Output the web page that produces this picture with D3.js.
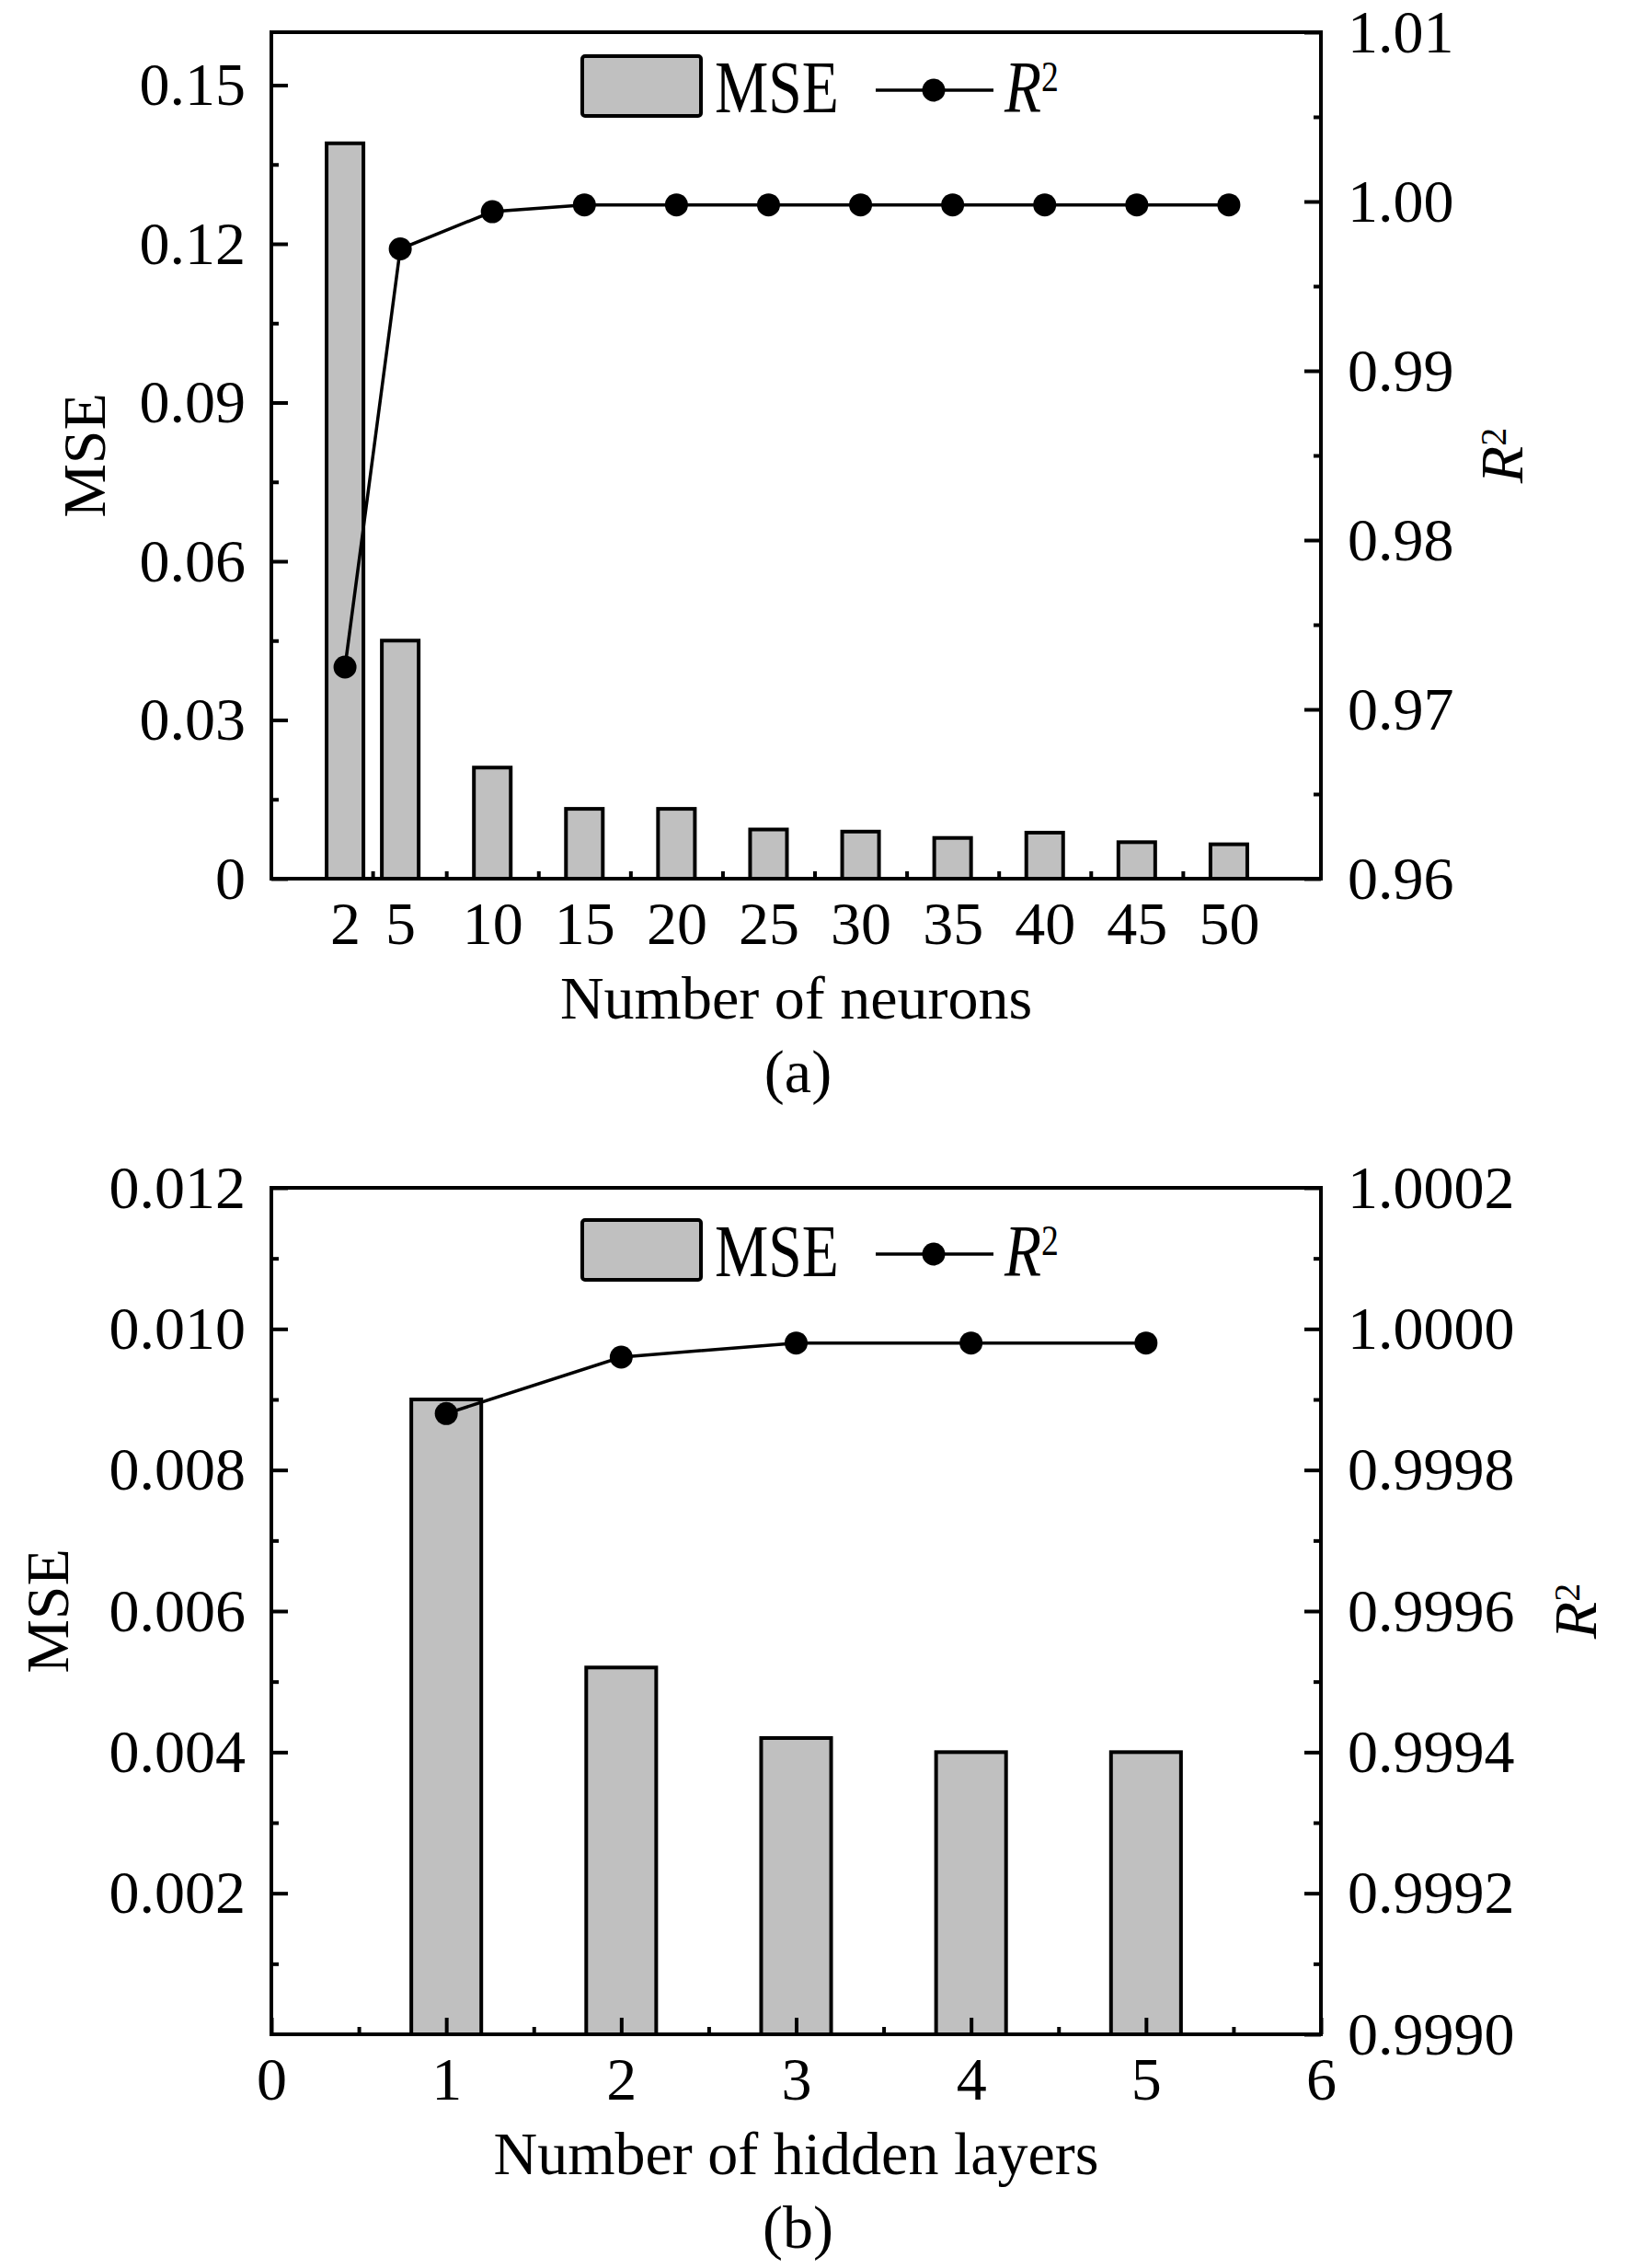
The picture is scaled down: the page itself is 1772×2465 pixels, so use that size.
<!DOCTYPE html>
<html>
<head>
<meta charset="utf-8">
<script src="https://cdn.jsdelivr.net/npm/d3@7"></script>
<style>
  body { margin: 0; background: #fff; }
  svg { display: block; font-family: "Liberation Serif", "Times New Roman", serif; }
</style>
</head>
<body>
<svg id="chart" width="1772" height="2465"></svg>
<script>
// panel (a): number of neurons
const neurons = [2, 5, 10, 15, 20, 25, 30, 35, 40, 45, 50];
const mseNeurons = [0.139, 0.045, 0.021, 0.0132, 0.0132, 0.0093, 0.0089, 0.0077, 0.0087, 0.0069, 0.0065];
const r2Neurons = [0.9725, 0.9972, 0.9994, 0.9998, 0.9998, 0.9998, 0.9998, 0.9998, 0.9998, 0.9998, 0.9998];

// panel (b): number of hidden layers
const layers = [1, 2, 3, 4, 5];
const mseLayers = [0.009, 0.0052, 0.0042, 0.004, 0.004];
const r2Layers = [0.99988, 0.99996, 0.99998, 0.99998, 0.99998];

// tick values
const mseTicksA = [0, 0.03, 0.06, 0.09, 0.12, 0.15];
const r2TicksA = [0.96, 0.97, 0.98, 0.99, 1.00, 1.01];
const mseTicksB = [0.002, 0.004, 0.006, 0.008, 0.010, 0.012];
const r2TicksB = [0.9990, 0.9992, 0.9994, 0.9996, 0.9998, 1.0000, 1.0002];
const layerTicks = [0, 1, 2, 3, 4, 5, 6];

const svg = d3.select("#chart");
const FONT = 66;
const SERIF = '"Liberation Serif", "Times New Roman", serif';

// midpoints between neighbouring ticks (used for the minor ticks)
function midpoints(arr) {
    let out = [];
    for (let i = 0; i < arr.length - 1; i++) {
        out.push((arr[i] + arr[i + 1]) / 2);
    }
    return out;
}

function styleAxis(sel, width) {
    sel.attr("font-family", SERIF).attr("font-size", FONT);
    sel.select(".domain").remove();
    sel.selectAll(".tick line").attr("stroke-width", width);
}

function drawPanel(p) {
    let left = 295, right = 1436;
    let g = svg.append("g");

    let x = d3.scaleLinear().domain(p.xDomain).range([left, right]);
    let yL = d3.scaleLinear().domain(p.mseDomain).range([p.bottom, p.top]);
    let yR = d3.scaleLinear().domain(p.r2Domain).range([p.bottom, p.top]);

    // bars
    let bars = p.cats.map((c, i) => ({c: c, v: p.mse[i]}));
    g.append("g").selectAll("rect")
        .data(bars)
        .join("rect")
        .attr("x", d => x(d.c - p.barW / 2))
        .attr("width", x(p.barW) - x(0))
        .attr("y", d => yL(d.v))
        .attr("height", d => p.bottom - yL(d.v))
        .attr("fill", "#c0c0c0")
        .attr("stroke", "#000")
        .attr("stroke-width", 4);

    // left axis
    let la = g.append("g").attr("transform", "translate(" + left + ",0)")
        .call(d3.axisLeft(yL).tickValues(p.mseTicks).tickSize(-18).tickPadding(28)
            .tickFormat(d => d === 0 ? "0" : d.toFixed(p.mseDigits)));
    styleAxis(la, 4);
    let lm = g.append("g").attr("transform", "translate(" + left + ",0)")
        .call(d3.axisLeft(yL).tickValues(p.mseMinor).tickSize(-8).tickFormat(""));
    styleAxis(lm, 4);

    // right axis
    let ra = g.append("g").attr("transform", "translate(" + right + ",0)")
        .call(d3.axisRight(yR).tickValues(p.r2Ticks).tickSize(-18).tickPadding(29)
            .tickFormat(d => d.toFixed(p.r2Digits)));
    styleAxis(ra, 4);
    let rm = g.append("g").attr("transform", "translate(" + right + ",0)")
        .call(d3.axisRight(yR).tickValues(midpoints(p.r2Ticks)).tickSize(-8).tickFormat(""));
    styleAxis(rm, 4);

    // bottom axis
    let ba = g.append("g").attr("transform", "translate(0," + p.bottom + ")")
        .call(d3.axisBottom(x).tickValues(p.xTicks).tickSize(p.xMajor).tickPadding(24)
            .tickFormat(d3.format("d")));
    styleAxis(ba, 4);
    let bm = g.append("g").attr("transform", "translate(0," + p.bottom + ")")
        .call(d3.axisBottom(x).tickValues(p.xMinor).tickSize(-8).tickFormat(""));
    styleAxis(bm, 4);

    // R2 line and dots
    let pts = p.cats.map((c, i) => ({c: c, v: p.r2[i]}));
    let line = d3.line().x(d => x(d.c)).y(d => yR(d.v));
    g.append("path")
        .datum(pts)
        .attr("d", line)
        .attr("fill", "none")
        .attr("stroke", "#000")
        .attr("stroke-width", 3.5);
    g.append("g").selectAll("circle")
        .data(pts)
        .join("circle")
        .attr("cx", d => x(d.c))
        .attr("cy", d => yR(d.v))
        .attr("r", 12.5)
        .attr("fill", "#000");

    // frame
    g.append("rect")
        .attr("x", left).attr("y", p.top)
        .attr("width", right - left).attr("height", p.bottom - p.top)
        .attr("fill", "none").attr("stroke", "#000").attr("stroke-width", 4);

    let midY = (p.top + p.bottom) / 2;
    let midX = (left + right) / 2;

    // axis titles
    g.append("text")
        .attr("transform", "translate(" + p.mseTitleX + "," + midY + ") rotate(-90)")
        .attr("text-anchor", "middle")
        .attr("font-size", FONT)
        .text("MSE");

    let rt = g.append("text")
        .attr("transform", "translate(" + p.r2TitleX + "," + midY + ") rotate(-90)")
        .attr("text-anchor", "middle")
        .attr("font-size", FONT);
    rt.append("tspan").attr("font-style", "italic").text("R");
    rt.append("tspan").attr("font-size", 40).attr("dy", -18).text("2");

    g.append("text")
        .attr("x", midX).attr("y", p.bottom + 152)
        .attr("text-anchor", "middle")
        .attr("font-size", FONT)
        .text(p.xTitle);

    g.append("text")
        .attr("x", midX + 2).attr("y", p.bottom + 232)
        .attr("text-anchor", "middle")
        .attr("font-size", FONT)
        .text(p.tag);

    // legend
    let lt = p.legendTop;
    g.append("rect")
        .attr("x", 633).attr("y", lt)
        .attr("width", 129).attr("height", 65)
        .attr("rx", 3)
        .attr("fill", "#c0c0c0").attr("stroke", "#000").attr("stroke-width", 4);
    g.append("text")
        .attr("transform", "translate(777," + (lt + 61) + ") scale(0.82,1)")
        .attr("font-size", 80)
        .text("MSE");
    g.append("line")
        .attr("x1", 952).attr("x2", 1080)
        .attr("y1", lt + 37).attr("y2", lt + 37)
        .attr("stroke", "#000").attr("stroke-width", 3.5);
    g.append("circle")
        .attr("cx", 1015).attr("cy", lt + 37).attr("r", 12.5)
        .attr("fill", "#000");
    let lr = g.append("text")
        .attr("transform", "translate(1092," + (lt + 61) + ") scale(0.82,1)")
        .attr("font-size", 80);
    lr.append("tspan").attr("font-style", "italic").text("R");
    lr.append("tspan").attr("font-size", 46).attr("dy", -23).text("2");
}

drawPanel({
    top: 35, bottom: 955,
    xDomain: [-2, 55],
    cats: neurons, mse: mseNeurons, r2: r2Neurons,
    barW: 2,
    mseDomain: [0, 0.16], mseTicks: mseTicksA, mseMinor: midpoints(mseTicksA), mseDigits: 2,
    r2Domain: [0.96, 1.01], r2Ticks: r2TicksA, r2Digits: 2,
    xTicks: neurons, xMajor: 0, xMinor: midpoints(neurons),
    mseTitleX: 114, r2TitleX: 1655,
    xTitle: "Number of neurons", tag: "(a)",
    legendTop: 61
});

drawPanel({
    top: 1291, bottom: 2211,
    xDomain: [0, 6],
    cats: layers, mse: mseLayers, r2: r2Layers,
    barW: 0.4,
    mseDomain: [0, 0.012], mseTicks: mseTicksB, mseMinor: midpoints([0].concat(mseTicksB)), mseDigits: 3,
    r2Domain: [0.9990, 1.0002], r2Ticks: r2TicksB, r2Digits: 4,
    xTicks: layerTicks, xMajor: -18, xMinor: midpoints(layerTicks),
    mseTitleX: 74, r2TitleX: 1735,
    xTitle: "Number of hidden layers", tag: "(b)",
    legendTop: 1326
});
</script>
</body>
</html>
